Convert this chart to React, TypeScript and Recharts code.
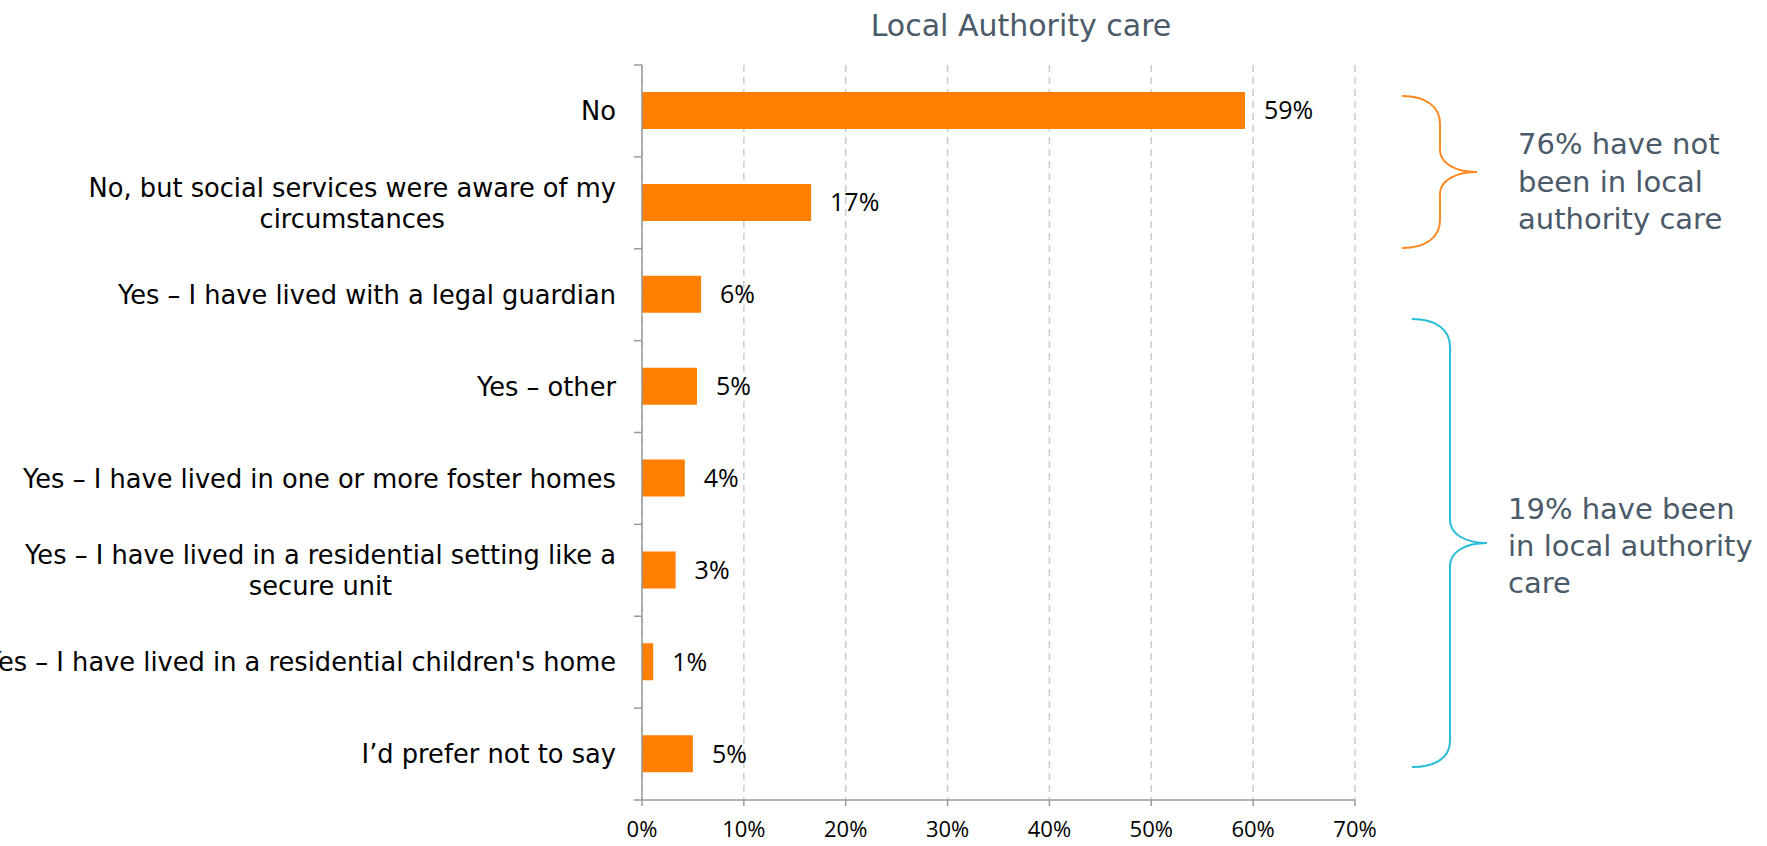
import React from "react";
import { BarChart, Bar, XAxis, YAxis, CartesianGrid, LabelList } from "recharts";

const categories = [
  "No",
  "No, but social services were aware of my\ncircumstances",
  "Yes – I have lived with a legal guardian",
  "Yes – other",
  "Yes – I have lived in one or more foster homes",
  "Yes – I have lived in a residential setting like a\nsecure unit",
  "Yes – I have lived in a residential children's home",
  "I’d prefer not to say",
];
const values = [59.2, 16.6, 5.8, 5.4, 4.2, 3.3, 1.1, 5.0];
const valueLabels = ["59%", "17%", "6%", "5%", "4%", "3%", "1%", "5%"];
const xTicks = [0, 10, 20, 30, 40, 50, 60, 70];

const title = "Local Authority care";
const notInCareText = ["76% have not", "been in local", "authority care"];
const inCareText = ["19% have been", "in local authority", "care"];

// layout
const W = 1767;
const H = 846;
const TOP = 65;
const BOTTOM = 800;
const LEFT = 642;
const RIGHT = 1355;
const BAND = (BOTTOM - TOP) / categories.length;
const FONT = "'DejaVu Sans', sans-serif";
const NUM_FONT = "'Open Sans', sans-serif";
const CAT_SIZE = 25.7;
const SLATE = "#4b5a69";
const AXIS = "#9a9a9a";

let ctx: CanvasRenderingContext2D | null = null;
const textWidth = (s: string, size: number) => {
  if (!ctx) ctx = document.createElement("canvas").getContext("2d");
  if (!ctx) return s.length * size * 0.55;
  ctx.font = `${size}px 'DejaVu Sans'`;
  return ctx.measureText(s).width;
};

const CategoryTick = (props: any) => {
  const { x, y, payload, index } = props;
  const lines = String(payload.value).split("\n");
  const lh = 31;
  const widest = Math.max(...lines.map((l) => textWidth(l, CAT_SIZE)));
  const multi = lines.length > 1;
  const cx = multi ? x - widest / 2 : x;
  const y0 = y - ((lines.length - 1) * lh) / 2;
  return (
    <g>
      <line x1={LEFT - 8} x2={LEFT} y1={y - BAND / 2} y2={y - BAND / 2} stroke={AXIS} strokeWidth={1.5} />
      {index === categories.length - 1 && (
        <line x1={LEFT - 8} x2={LEFT} y1={y + BAND / 2} y2={y + BAND / 2} stroke={AXIS} strokeWidth={1.5} />
      )}
      <text fontFamily={FONT} fontSize={CAT_SIZE} fill="#000" textAnchor={multi ? "middle" : "end"}>
        {lines.map((l, i) => (
          <tspan key={i} x={cx} y={y0 + i * lh} dy="0.36em">
            {l}
          </tspan>
        ))}
      </text>
    </g>
  );
};

const App: React.FC = () => {
  const data = categories.map((c, i) => ({
    name: c,
    value: values[i],
    label: valueLabels[i],
  }));

  return (
    <div style={{ position: "absolute", left: 0, top: 0, width: W, height: H, background: "#fff" }}>
      <BarChart
        width={W}
        height={H}
        data={data}
        layout="vertical"
        margin={{ top: TOP, right: W - RIGHT, bottom: 0, left: 0 }}
      >
        <CartesianGrid horizontal={false} stroke="#c6cdcd" strokeWidth={1.5} strokeDasharray="7 5" />
        <XAxis
          type="number"
          domain={[0, 70]}
          ticks={xTicks}
          tickFormatter={(v) => `${v}%`}
          height={H - BOTTOM}
          stroke={AXIS}
          strokeWidth={1.5}
          tickSize={6}
          tickMargin={15}
          tick={{ fill: "#000", fontSize: 22, fontFamily: NUM_FONT }}
        />
        <YAxis
          type="category"
          dataKey="name"
          width={LEFT}
          stroke={AXIS}
          strokeWidth={1.5}
          tickLine={false}
          tickSize={8}
          tickMargin={18}
          interval={0}
          tick={<CategoryTick />}
        />
        <Bar dataKey="value" fill="#ff7f00" barSize={37} isAnimationActive={false}>
          <LabelList dataKey="label" position="right" offset={19} fill="#000" fontSize={25} fontFamily={NUM_FONT} />
        </Bar>
      </BarChart>
      <svg width={W} height={H} style={{ position: "absolute", left: 0, top: 0, pointerEvents: "none" }}>
        <text x={1021} y={36} textAnchor="middle" fontFamily={FONT} fontSize={30} fill={SLATE}>
          {title}
        </text>
        <path
          d="M1402 96 C1425 96 1440 106 1440 124 L1440 150 C1440 163 1455 172 1477 172 C1455 172 1440 181 1440 194 L1440 220 C1440 238 1425 248 1402 248"
          fill="none"
          stroke="#ff8a24"
          strokeWidth={2}
        />
        <path
          d="M1412 319 C1435 319 1450 329 1450 347 L1450 520 C1450 534 1465 543 1487 543 C1465 543 1450 552 1450 566 L1450 741 C1450 758 1435 767 1412 767"
          fill="none"
          stroke="#26bdd6"
          strokeWidth={2}
        />
        <text fontFamily={FONT} fontSize={29} fill={SLATE}>
          {notInCareText.map((t, i) => (
            <tspan key={i} x={1518} y={154 + i * 37.5}>
              {t}
            </tspan>
          ))}
        </text>
        <text fontFamily={FONT} fontSize={29} fill={SLATE}>
          {inCareText.map((t, i) => (
            <tspan key={i} x={1508} y={519 + i * 37}>
              {t}
            </tspan>
          ))}
        </text>
      </svg>
    </div>
  );
};

export default App;
